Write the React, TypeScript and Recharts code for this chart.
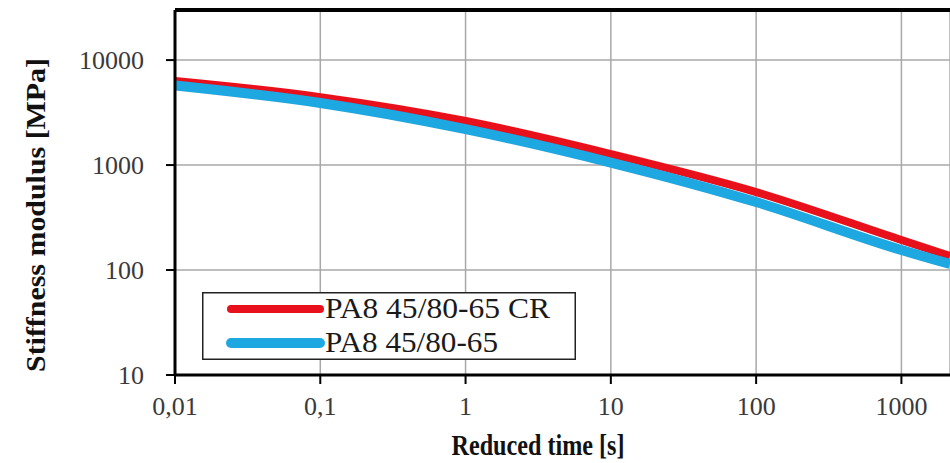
import { LineChart, Line, XAxis, YAxis, CartesianGrid, ReferenceLine, Label } from 'recharts';

// reduced time [s]
const times = [0.01, 0.1, 1, 10, 100, 1000, 2160];
// stiffness modulus [MPa]
const crValues = [6310, 4440, 2630, 1273, 553, 193, 136];
const baseValues = [5720, 3900, 2200, 1057, 444, 155, 114];

const xTicks = [0.01, 0.1, 1, 10, 100, 1000];
const yTicks = [10, 100, 1000, 10000];
const yMax = 30000;

const seriesNames = ['PA8 45/80-65 CR', 'PA8 45/80-65'];
const RED = '#e8101a';
const BLUE = '#1ea8e2';

const data = times.map((t, i) => ({ t, cr: crValues[i], base: baseValues[i] }));

const FONT = '"Liberation Serif", "Times New Roman", serif';

const fmtTime = (v: number) => String(v).replace('.', ',');

// legend drawn as an overlay so it doesn't eat into the plot area
const CustomLegend = () => (
  <svg width={374} height={68} style={{ position: 'absolute', left: 202, top: 292 }}>
    <rect x={0.75} y={0.75} width={372.5} height={66.5} fill="#fff" stroke="#222" strokeWidth={1.5} />
    <line x1={29} y1={17} x2={118} y2={17} stroke={RED} strokeWidth={8} strokeLinecap="round" />
    <text x={123} y={26} fontFamily={FONT} fontSize={30} fill="#1a1a1a" textLength={225} lengthAdjust="spacingAndGlyphs">
      {seriesNames[0]}
    </text>
    <line x1={29} y1={51} x2={118} y2={51} stroke={BLUE} strokeWidth={10} strokeLinecap="round" />
    <text x={123} y={60} fontFamily={FONT} fontSize={30} fill="#1a1a1a" textLength={173} lengthAdjust="spacingAndGlyphs">
      {seriesNames[1]}
    </text>
  </svg>
);

export default function App() {
  return (
    <div style={{ position: 'absolute', left: 0, top: 0, width: 950, height: 463, background: '#fff', overflow: 'hidden' }}>
      <LineChart width={950} height={463} data={data} margin={{ top: 10, right: 0, bottom: 0, left: 0 }}>
        <CartesianGrid stroke="#a8a8a8" strokeWidth={1.5} />
        <XAxis
          dataKey="t"
          type="number"
          scale="log"
          domain={[0.01, 2160]}
          ticks={xTicks}
          allowDataOverflow
          height={88}
          tickFormatter={fmtTime}
          tick={{ fontFamily: FONT, fontSize: 26, fill: '#3a3a3a' }}
          tickSize={9}
          tickMargin={13}
          axisLine={{ stroke: '#000', strokeWidth: 3 }}
          tickLine={{ stroke: '#000', strokeWidth: 2 }}
        >
          <Label
            content={() => (
              <text x={538} y={455} textAnchor="middle" fontFamily={FONT} fontSize={29} fontWeight="bold" fill="#111" textLength={173} lengthAdjust="spacingAndGlyphs">
                Reduced time [s]
              </text>
            )}
          />
        </XAxis>
        <YAxis
          type="number"
          scale="log"
          domain={[10, yMax]}
          ticks={yTicks}
          allowDataOverflow
          width={175}
          tick={{ fontFamily: FONT, fontSize: 26, fill: '#3a3a3a' }}
          tickSize={9}
          tickMargin={22}
          axisLine={{ stroke: '#000', strokeWidth: 3 }}
          tickLine={{ stroke: '#000', strokeWidth: 2 }}
        >
          <Label
            content={() => (
              <text
                x={39}
                y={215}
                transform="rotate(-90 39 215)"
                textAnchor="middle"
                dominantBaseline="middle"
                fontFamily={FONT}
                fontSize={28}
                fontWeight="bold"
                fill="#111"
                textLength={314}
                lengthAdjust="spacingAndGlyphs"
              >
                Stiffness modulus [MPa]
              </text>
            )}
          />
        </YAxis>
        <ReferenceLine y={yMax} stroke="#000" strokeWidth={4} />
        <Line
          dataKey="cr"
          name={seriesNames[0]}
          type="monotone"
          stroke={RED}
          strokeWidth={8}
          dot={false}
          isAnimationActive={false}
        />
        <Line
          dataKey="base"
          name={seriesNames[1]}
          type="monotone"
          stroke={BLUE}
          strokeWidth={10}
          dot={false}
          isAnimationActive={false}
        />
      </LineChart>
      <CustomLegend />
    </div>
  );
}
